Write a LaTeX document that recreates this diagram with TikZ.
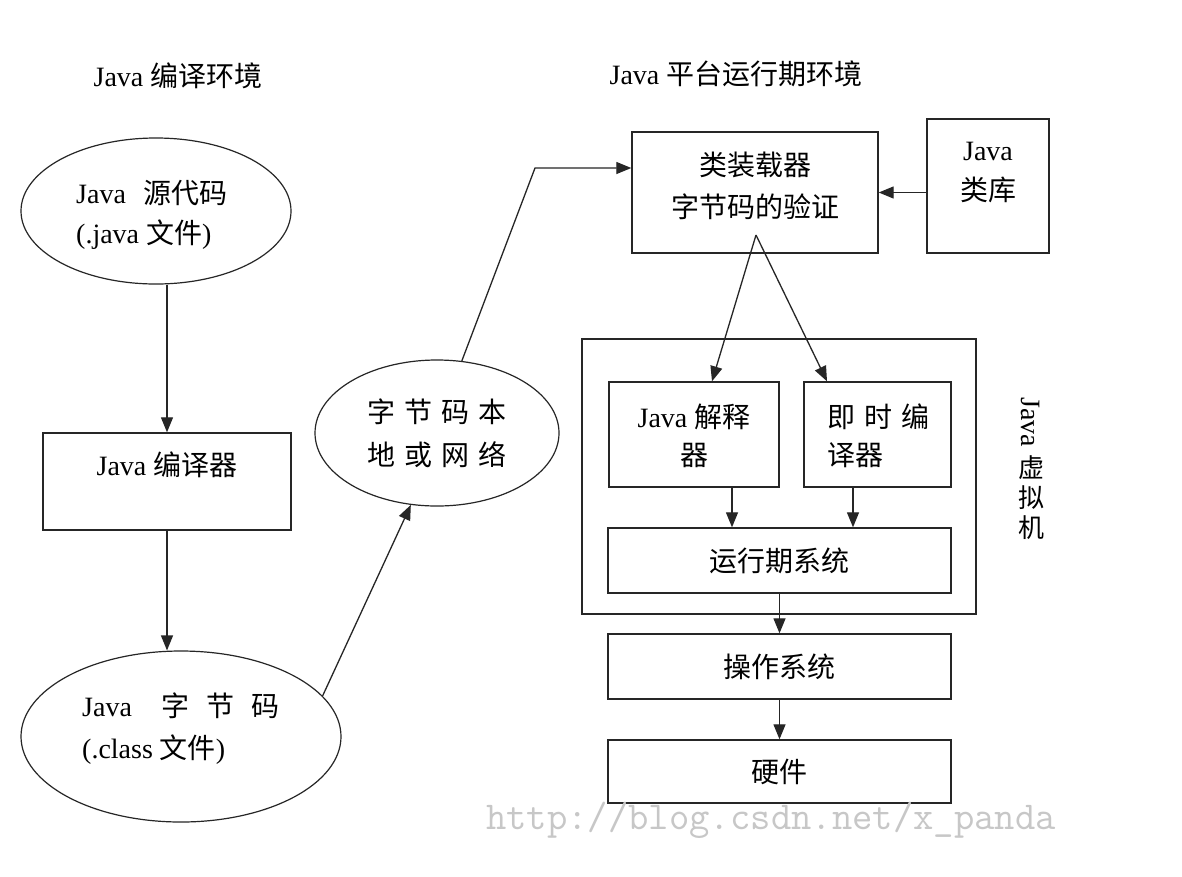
\documentclass[tikz,border=0pt]{standalone}
\usepackage{fontspec}
\setmainfont{Liberation Serif}
\newfontfamily\cjk{Noto Sans CJK SC}
\usetikzlibrary{shapes.geometric,arrows.meta,calc}
\newcommand\zh[1]{{\cjk #1}}
\begin{document}
\begin{tikzpicture}[x=1pt,y=-1pt,
  font=\fontsize{28}{42}\selectfont,
  box/.style={draw=black!85, line width=1.4pt, rectangle, inner sep=0pt},
  oval/.style={draw=black!85, line width=1.2pt, ellipse, inner sep=0pt},
  txt/.style={inner sep=0pt, align=center},
  conn/.style={draw=black!85, line width=1.3pt},
  arr/.style={conn, -{Triangle[length=15pt,width=12pt]}}]
\path[use as bounding box, fill=white] (0,0) rectangle (1182,876);

% titles
\node[txt] (t1) at (178,76) {Java \zh{编译环境}};
\node[txt] (t2) at (736,74) {Java \zh{平台运行期环境}};

% left column
\node[oval, minimum width=270pt, minimum height=146pt] (src) at (156,211) {};
\node[txt, align=left, anchor=west] (srct) at (76,215) {Java\hspace{18pt}\zh{源代码}\\[-2pt](.java \zh{文件})};

\node[box, minimum width=248pt, minimum height=97pt] (comp) at (167,481.5) {};
\node[txt] (compt) at (167,465) {Java \zh{编译器}};

\node[oval, minimum width=320pt, minimum height=171pt] (bc) at (181,736.5) {};
\node[txt, align=left, anchor=west] (bct) at (82,729) {Java\hspace{30pt}\zh{字}\hspace{17pt}\zh{节}\hspace{17pt}\zh{码}\\(.class \zh{文件})};

\node[oval, minimum width=244pt, minimum height=146pt] (net) at (437,433) {};
\node[txt] (nett) at (437,433.5) {\zh{字}\hspace{9pt}\zh{节}\hspace{9pt}\zh{码}\hspace{9pt}\zh{本}\\[1pt]\zh{地}\hspace{9pt}\zh{或}\hspace{9pt}\zh{网}\hspace{9pt}\zh{络}};

% right column
\node[box, minimum width=246pt, minimum height=121pt] (loader) at (755,192.5) {};
\node[txt] (loadert) at (755,186) {\zh{类装载器}\\\zh{字节码的验证}};

\node[box, minimum width=122pt, minimum height=134pt] (lib) at (988,186) {};
\node[txt] (libt) at (988,173) {Java\\[-2pt]\zh{类库}};

\node[box, minimum width=394pt, minimum height=275pt] (jvm) at (779,476.5) {};
\node[box, minimum width=170pt, minimum height=105pt] (interp) at (694,434.5) {};
\node[txt] (interpt) at (694,436) {Java \zh{解释}\\[-4pt]\zh{器}};
\node[box, minimum width=147pt, minimum height=105pt] (jit) at (877.5,434.5) {};
\node[txt, align=left, anchor=west] (jitt) at (827,436) {\zh{即}\hspace{9pt}\zh{时}\hspace{9pt}\zh{编}\\[-4pt]\zh{译器}};

\node[box, minimum width=343pt, minimum height=65pt] (rt) at (779.5,560.5) {\zh{运行期系统}};
\node[box, minimum width=343pt, minimum height=65pt] (os) at (779.5,666.5) {\zh{操作系统}};
\node[box, minimum width=343pt, minimum height=63pt] (hw) at (779.5,771.5) {\zh{硬件}};

\node[txt, rotate=-90] (jvmJ) at (1031,422) {Java};
\node[txt, font=\fontsize{26}{30}\selectfont] (jvmZ) at (1031,498) {\zh{虚}\\\zh{拟}\\\zh{机}};

% watermark
\node[txt, text=black!22, font=\ttfamily\fontsize{39.5}{40}\selectfont] (wm) at (771,820) {http://blog.csdn.net/x\_panda};

% connectors
\draw[arr] (comp.north |- src.south) -- (comp.north);
\draw[arr] (comp.south) -- (comp.south |- bc.north);
\draw[arr] (bc.16) -- (net.250);
\coordinate (bend) at (535,168);
\draw[arr] (net.71) -- (bend) -- (loader.west |- bend);
\draw[arr] (lib.west |- loader.east) -- (loader.east);
\coordinate (apex) at (756,235);
\draw[arr] (apex) -- ([xshift=18pt]interp.north);
\draw[arr] (apex) -- ([xshift=-50.5pt]jit.north);
\draw[arr] ([xshift=38pt]interp.south) -- ([xshift=38pt]interp.south |- rt.north);
\draw[arr] ([xshift=-24.5pt]jit.south) -- ([xshift=-24.5pt]jit.south |- rt.north);
\draw[arr] (rt.south) -- (os.north);
\draw[arr] (os.south) -- (hw.north);
\end{tikzpicture}
\end{document}
